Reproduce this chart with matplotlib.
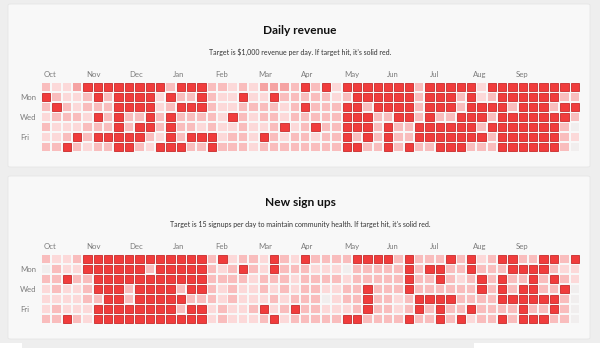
""" Daily revenue / new sign ups, calendar heatmaps
"""
import numpy as np
import matplotlib.pyplot as plt
from matplotlib.patches import Rectangle, FancyBboxPatch

plt.rcParams['font.family'] = ['Lato', 'DejaVu Sans']

W, H = 600, 348

months = ['Oct', 'Nov', 'Dec', 'Jan', 'Feb', 'Mar',
          'Apr', 'May', 'Jun', 'Jul', 'Aug', 'Sep']
day_labels = ['', 'Mon', '', 'Wed', '', 'Fri', '']

# level per day (0 = no data, 1..3 = below target, 4 = target hit)
# one string per weekday (Sun..Sat), one digit per week
revenue_levels = [
    "2113444444442" "4442212133324" "2414444444244" "4441444444444",
    "4211242444414" "2242114114222" "2212444444244" "4241244444422",
    "2421222444412" "4442112222124" "2224424444244" "4244442444244",
    "1222142422424" "2222142122122" "2224442244242" "2444244444442",
    "2111222424424" "2212112112412" "4224442422444" "4442444444420",
    "1124244444214" "2444122142122" "1224242422444" "4444244444421",
    "2242122442144" "4224222122222" "2224422424224" "4422244444420",
]
signup_levels = [
    "2112444444444" "4442412214214" "2222444424222" "4241244224424",
    "0211444444244" "4442124214222" "1110222224244" "2242224444211",
    "2242244444444" "4442222122212" "2221222224224" "2124242242421",
    "1211244424444" "2442121121212" "2112242224222" "2224242442240",
    "1111224424444" "4222121112122" "2012242212444" "4222244444420",
    "1211144444444" "2441211241242" "2111242212424" "2242222422420",
    "2242144444444" "4441211124122" "2224422224224" "2412242444220",
]

panels = [
    ("Daily revenue",
     "Target is $1,000 revenue per day. If target hit, it's solid red.",
     revenue_levels),
    ("New sign ups",
     "Target is 15 signups per day to maintain community health. "
     "If target hit, it's solid red.",
     signup_levels),
]

fill = ['#f1eeee', '#fcd9d9', '#f9bdbd', '#f5a3a3', '#f03c3c']
edge = ['#f1eeee', '#fcd9d9', '#f9bdbd', '#f5a3a3', '#c92b2b']


def fx(x):
    return x / W


def fy(y):
    return 1 - y / H


fig = plt.figure(figsize=(6, 3.48), dpi=100)
fig.patch.set_facecolor('#eeeeee')

# page strip at the bottom
fig.add_artist(Rectangle((0, 0), fx(22), 5 / H, transform=fig.transFigure,
                         facecolor='white', edgecolor='none', zorder=-3))
fig.add_artist(Rectangle((fx(474), 0), fx(126), 5 / H,
                         transform=fig.transFigure,
                         facecolor='white', edgecolor='none', zorder=-3))

card_top = [4, 176]
for k, (title, subtitle, rows) in enumerate(panels):
    top = card_top[k]
    # card
    fig.add_artist(FancyBboxPatch((fx(8), fy(top + 163)), fx(582), 163 / H,
                                  boxstyle="round,pad=0,rounding_size=0.004",
                                  transform=fig.transFigure,
                                  facecolor='#f8f8f8', edgecolor='#e6e6e6',
                                  linewidth=0.6, zorder=-2))
    fig.text(0.5, fy(top + 27), title, ha='center', va='center',
             fontsize=8.6, fontweight='bold', color='#111111')
    fig.text(0.5, fy(top + 48), subtitle, ha='center', va='center',
             fontsize=5.05, color='#333333')

    levels = np.array([[int(ch) for ch in r] for r in rows])
    n_rows, n_cols = levels.shape
    grid_top = top + 78.5
    ax = fig.add_axes([fx(41.7), fy(grid_top + 70), fx(539), 70 / H])
    ax.set_zorder(2)
    ax.set_xlim(0, n_cols)
    ax.set_ylim(n_rows, 0)
    gx, gy = 0.19, 0.2
    for r in range(n_rows):
        for c in range(n_cols):
            lv = levels[r, c]
            ax.add_patch(Rectangle((c + 0.02, r + 0.02), 1 - gx, 1 - gy,
                                   facecolor=fill[lv], edgecolor=edge[lv],
                                   linewidth=0.6 if lv == 4 else 0))
    for s in ax.spines.values():
        s.set_visible(False)
    ax.set_facecolor('none')

    ax.xaxis.tick_top()
    ax.set_xticks(0.2 + 4.14 * np.arange(len(months)))
    ax.set_xticklabels(months, ha='left', fontsize=5.6, color='#7a7a7a')
    ax.set_yticks(np.arange(n_rows) + 0.42)
    ax.set_yticklabels(day_labels, ha='left', fontsize=5.6, color='#7a7a7a')
    ax.tick_params(axis='x', length=0, pad=3)
    ax.tick_params(axis='y', length=0, pad=15.5)

fig.savefig('out.png', dpi=100, facecolor=fig.get_facecolor())
